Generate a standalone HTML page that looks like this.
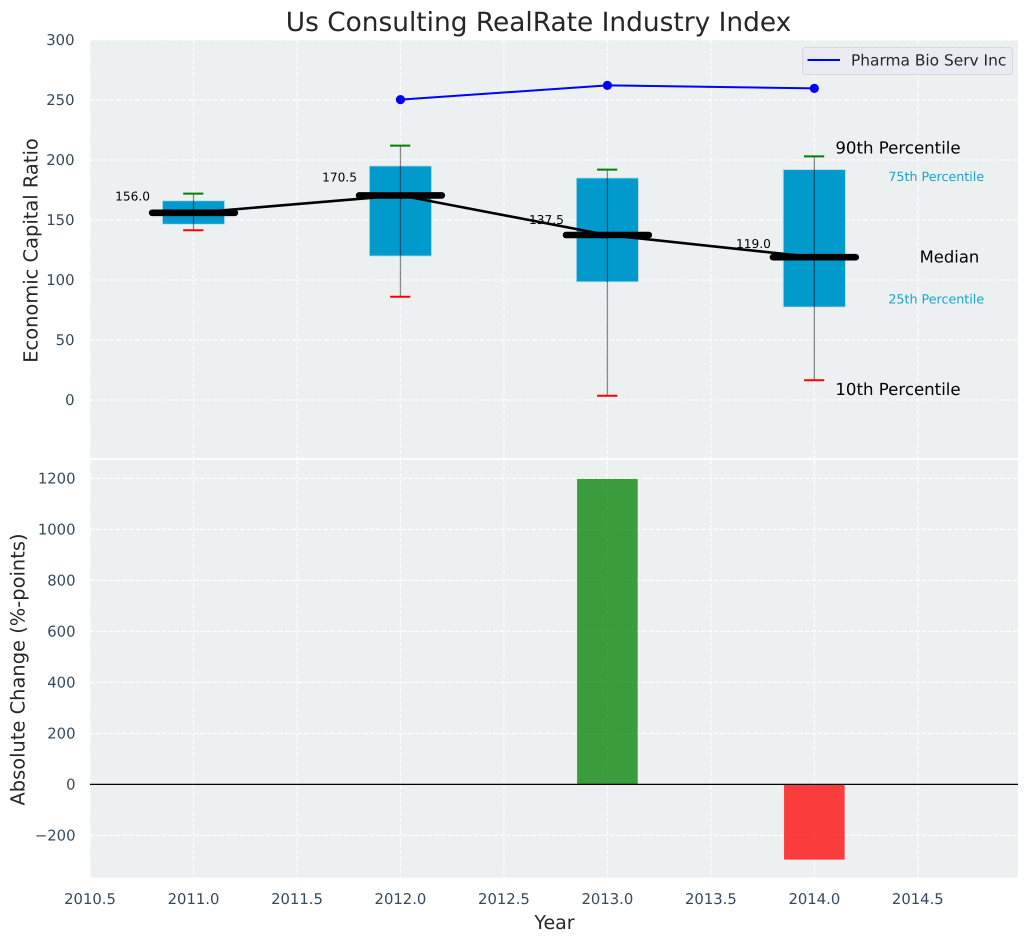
<!DOCTYPE html>
<html lang="en">
<head>
<meta charset="utf-8">
<title>Us Consulting RealRate Industry Index</title>
<style>
html,body{margin:0;padding:0;background:#fff;width:1029px;height:942px;overflow:hidden}
svg{display:block;font-family:"DejaVu Sans","Liberation Sans",sans-serif;text-rendering:geometricPrecision}
</style>
</head>
<body>
<svg id="chart" xmlns="http://www.w3.org/2000/svg" width="1029" height="942" viewBox="0 0 1029 942"></svg>
<script>
const years = [2011, 2012, 2013, 2014];
const p10 = [141.5, 86, 3.5, 16.5];
const p25 = [146.5, 120, 98.5, 77.5];
const medians = [156.0, 170.5, 137.5, 119.0];
const p75 = [166, 195, 185, 192];
const p90 = [172, 212, 192, 203];
const companyYears = [2012, 2013, 2014];
const companyValues = [250.3, 262.2, 259.7];
const changeYears = [2013, 2014];
const changeValues = [1198, -295];
const xTicks = [2010.5, 2011, 2011.5, 2012, 2012.5, 2013, 2013.5, 2014, 2014.5];
const topTicks = [0, 50, 100, 150, 200, 250, 300];
const bottomTicks = [-200, 0, 200, 400, 600, 800, 1000, 1200];

const NS = 'http://www.w3.org/2000/svg';
const svg = document.getElementById('chart');
const left = 90, right = 1018;
const topPanel = {top: 40, bottom: 458};
const botPanel = {top: 460, bottom: 877.7};
const x = v => 193.5 + (v - 2011) * 206.95;
const yTop = v => 400 - v * 1.2;
const yBot = v => 784.4 - v * 0.255;
const w = (a, b) => Math.abs(x(a) - x(b));

function make(tag, attrs, text) {
  const el = document.createElementNS(NS, tag);
  for (const k in attrs) el.setAttribute(k, attrs[k]);
  if (text !== undefined) el.textContent = text;
  svg.appendChild(el);
  return el;
}
const tickFmt = v => String(v).replace('-', '\u2212');
let el;

/* panels */
el = make('rect', {x: left, y: topPanel.top, width: right - left, height: topPanel.bottom - topPanel.top, fill: '#ecf0f1'});


el = make('rect', {x: left, y: botPanel.top, width: right - left, height: botPanel.bottom - botPanel.top, fill: '#ecf0f1'});



/* grid */
const gridStyle = {stroke: '#fff', 'stroke-width': 1.1, 'stroke-dasharray': '4.5 2', fill: 'none'};
xTicks.forEach(t => {
  el = make('line', {x1: x(t), x2: x(t), y1: topPanel.top, y2: topPanel.bottom, ...gridStyle});
  
  
  el = make('line', {x1: x(t), x2: x(t), y1: botPanel.top, y2: botPanel.bottom, ...gridStyle});
  
  
});
topTicks.forEach(t => {
  el = make('line', {x1: left, x2: right, y1: yTop(t), y2: yTop(t), ...gridStyle});
  
  
});
bottomTicks.forEach(t => {
  el = make('line', {x1: left, x2: right, y1: yBot(t), y2: yBot(t), ...gridStyle});
  
  
});

/* tick labels */
const tickStyle = {fill: '#34495e', 'font-size': 14.8};
topTicks.forEach(t => {
  el = make('text', {x: 74.5, y: yTop(t) + 5.2, 'text-anchor': 'end', ...tickStyle}, tickFmt(t));
  
  
});
bottomTicks.forEach(t => {
  el = make('text', {x: 75.5, y: yBot(t) + 5.2, 'text-anchor': 'end', ...tickStyle}, tickFmt(t));
  
  
});
xTicks.forEach(t => {
  el = make('text', {x: x(t), y: 904, 'text-anchor': 'middle', ...tickStyle}, t.toFixed(1));
  
  
});

/* boxes */
years.forEach((yr, i) => {
  el = make('rect', {x: x(yr - 0.15), y: yTop(p75[i]), width: w(0.3, 0), height: yTop(p25[i]) - yTop(p75[i]), fill: '#009acd', stroke: '#b5dcea', 'stroke-width': 0.8});
  
  
  el = make('line', {x1: x(yr), x2: x(yr), y1: yTop(p90[i]), y2: yTop(p10[i]), stroke: '#000', 'stroke-opacity': 0.45, 'stroke-width': 1.3});
  
  
  el = make('line', {x1: x(yr - 0.05), x2: x(yr + 0.05) - 0.5, y1: yTop(p90[i]), y2: yTop(p90[i]), stroke: '#008000', 'stroke-width': 2});
  
  
  el = make('line', {x1: x(yr - 0.05), x2: x(yr + 0.05) - 0.5, y1: yTop(p10[i]), y2: yTop(p10[i]), stroke: '#ff0000', 'stroke-width': 2});
  
  
});

/* median trend */
el = make('polyline', {points: years.map((yr, i) => x(yr) + ',' + yTop(medians[i])).join(' '), fill: 'none', stroke: '#000', 'stroke-width': 2.6});


years.forEach((yr, i) => {
  el = make('line', {x1: x(yr - 0.2), x2: x(yr + 0.2), y1: yTop(medians[i]), y2: yTop(medians[i]), stroke: '#000', 'stroke-width': 6.6, 'stroke-linecap': 'round'});
  
  
  el = make('text', {x: x(yr - 0.21), y: yTop(medians[i] * 1.07) + 0.6, 'text-anchor': 'end', 'font-size': 12.2, fill: '#000'}, medians[i].toFixed(1));
  
  
});

/* company line */
el = make('polyline', {points: companyYears.map((yr, i) => x(yr) + ',' + yTop(companyValues[i])).join(' '), fill: 'none', stroke: '#0000ff', 'stroke-width': 2});


companyYears.forEach((yr, i) => {
  el = make('circle', {cx: x(yr), cy: yTop(companyValues[i]), r: 4.6, fill: '#0000ff'});
  
  
});

/* percentile key labels anchored to the last box */
const last = years.length - 1;
const lx = x(years[last]);
el = make('text', {x: lx + 21, y: yTop(p90[last]) - 3, 'font-size': 16.6, fill: '#000'}, '90th Percentile');


el = make('text', {x: lx + 74, y: yTop(p75[last]) + 11.5, 'font-size': 12.7, fill: '#009acd', 'fill-opacity': 0.9}, '75th Percentile');


el = make('text', {x: lx + 105.3, y: yTop(medians[last]) + 5.4, 'font-size': 16.4, fill: '#000'}, 'Median');


el = make('text', {x: lx + 74, y: yTop(p25[last]) - 3.5, 'font-size': 12.7, fill: '#009acd', 'fill-opacity': 0.9}, '25th Percentile');


el = make('text', {x: lx + 21, y: yTop(p10[last]) + 15, 'font-size': 16.6, fill: '#000'}, '10th Percentile');



/* change bars */
changeYears.forEach((yr, i) => {
  const v = changeValues[i];
  const up = v >= 0;
  el = make('rect', {x: x(yr) - 30.3, y: up ? yBot(v) : yBot(0), width: 60.6, height: Math.abs(yBot(v) - yBot(0)), fill: up ? '#008000' : '#ff0000', 'fill-opacity': 0.75});
  
  
});
el = make('line', {x1: left, x2: right, y1: yBot(0), y2: yBot(0), stroke: '#000', 'stroke-width': 1.3});



/* legend */
el = make('rect', {x: 802.5, y: 47.5, width: 210, height: 27, rx: 3, fill: '#eaeaf2', stroke: '#d5d7dc', 'stroke-width': 1});


el = make('line', {x1: 807.5, x2: 840, y1: 60, y2: 60, stroke: '#0000ff', 'stroke-width': 2});


el = make('text', {x: 851, y: 65.5, 'font-size': 15.4, fill: '#262626'}, 'Pharma Bio Serv Inc');



/* titles */
el = make('text', {x: 538.5, y: 31, 'text-anchor': 'middle', 'font-size': 26.4, fill: '#262626'}, 'Us Consulting RealRate Industry Index');


el = make('text', {x: 554.5, y: 929, 'text-anchor': 'middle', 'font-size': 19, fill: '#262626'}, 'Year');


el = make('text', {x: 37.5, y: 250.5, 'text-anchor': 'middle', 'font-size': 19.45, fill: '#262626', transform: 'rotate(-90 37.5 250.5)'}, 'Economic Capital Ratio');


el = make('text', {x: 24.5, y: 669.5, 'text-anchor': 'middle', 'font-size': 19.45, fill: '#262626', transform: 'rotate(-90 24.5 669.5)'}, 'Absolute Change (%-points)');


</script>
</body>
</html>
